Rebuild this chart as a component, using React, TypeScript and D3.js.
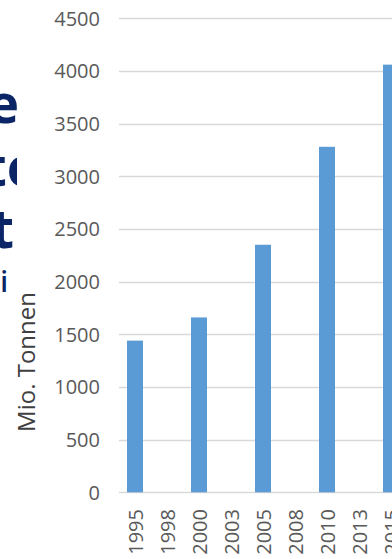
import React from "react";
import * as d3 from "d3";

const categories = ["1995", "1998", "2000", "2003", "2005", "2008", "2010", "2013", "2015"];
const values: (number | null)[] = [1440, null, 1660, null, 2350, null, 3280, null, 4060];
const yTicks = [0, 500, 1000, 1500, 2000, 2500, 3000, 3500, 4000, 4500];
const yTitle = "Mio. Tonnen";
const titleFragments = ["e", "te", "t"];
const subFragment = "i";

const W = 392;
const H = 559;

export default function App() {
  const x = d3
    .scaleBand<string>()
    .domain(categories)
    .range([119, 119 + 32 * categories.length])
    .paddingInner(0.5)
    .paddingOuter(0.25);
  const y = d3.scaleLinear().domain([0, 4500]).range([492.3, 18.3]);
  const font = "'Open Sans', 'Noto Sans', sans-serif";

  const titleX = [19, 38, 14];
  const titleY = [123, 186, 248];

  return (
    <svg
      width={W}
      height={H}
      style={{ position: "absolute", left: 0, top: 0, background: "#fff" }}
    >
      <defs>
        <clipPath id="titleClip">
          <rect x={0} y={0} width={17} height={H} />
        </clipPath>
      </defs>
      <g clipPath="url(#titleClip)">
        {titleFragments.map((t, i) => (
          <text
            key={i}
            x={titleX[i]}
            y={titleY[i]}
            textAnchor="end"
            fontFamily={font}
            fontWeight={700}
            fontSize={53}
            fill="#0b2566"
          >
            {t}
          </text>
        ))}
        <text x={8} y={292} textAnchor="end" fontFamily={font} fontWeight={600} fontSize={28} fill="#0b2566">
          {subFragment}
        </text>
      </g>
      {yTicks.map((t) => (
        <g key={t}>
          <line
            x1={119}
            x2={W}
            y1={Math.round(y(t)) + 0.5}
            y2={Math.round(y(t)) + 0.5}
            stroke="#d9d9d9"
            strokeWidth={1.3}
          />
          <text
            x={100}
            y={y(t)}
            textAnchor="end"
            dominantBaseline="central"
            fontFamily={font}
            fontSize={20}
            fill="#595959"
          >
            {t}
          </text>
        </g>
      ))}
      {categories.map((c, i) =>
        values[i] == null ? null : (
          <rect
            key={c}
            x={x(c)}
            y={y(values[i] as number)}
            width={x.bandwidth()}
            height={y(0) - y(values[i] as number)}
            fill="#5b9bd5"
          />
        )
      )}
      {categories.map((c) => (
        <text
          key={c}
          transform={`translate(${(x(c) as number) + x.bandwidth() / 2},509) rotate(-90)`}
          textAnchor="end"
          dominantBaseline="central"
          fontFamily={font}
          fontSize={20}
          fill="#595959"
        >
          {c}
        </text>
      ))}
      <text
        transform={`translate(35,362) rotate(-90)`}
        textAnchor="middle"
        fontFamily={font}
        fontSize={24}
        fill="#404040"
      >
        {yTitle}
      </text>
    </svg>
  );
}
